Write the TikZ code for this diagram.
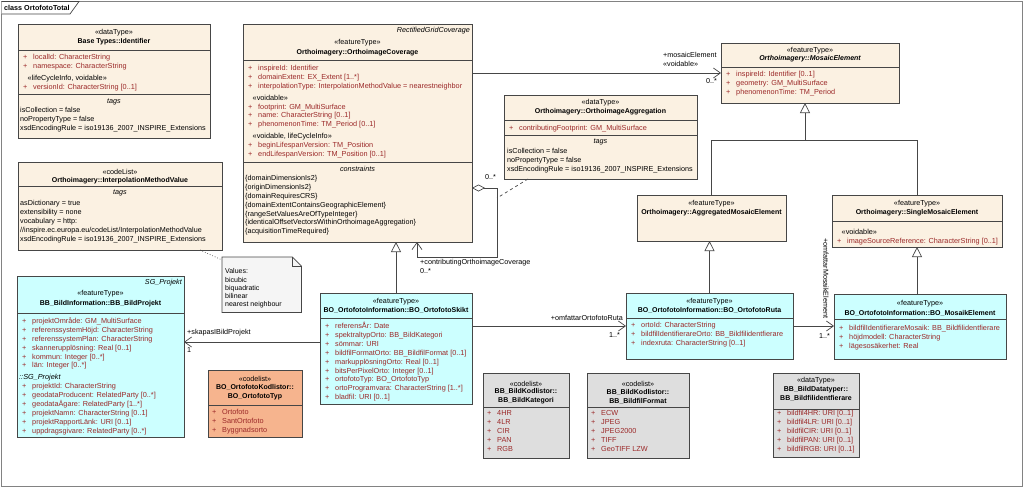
\documentclass[tikz,border=0pt]{standalone}
\usepackage{fontspec}
\setmainfont{Liberation Sans}
\usetikzlibrary{arrows.meta,positioning,calc}

\definecolor{eabeige}{RGB}{251,241,226}
\definecolor{eacyan}{RGB}{204,255,255}
\definecolor{eaorange}{RGB}{246,180,142}
\definecolor{eagray}{RGB}{222,222,222}
\definecolor{attrred}{RGB}{155,40,40}
\definecolor{boxline}{RGB}{70,70,70}
\definecolor{framegray}{RGB}{130,130,130}
\definecolor{notefill}{RGB}{245,245,245}

% 屬性列:前面的 + 號與名稱
\newcommand{\umlattr}[1]{\makebox[10pt][l]{+}#1}
% 屬性區內的 stereotype 列(黑色,稍微縮排)
\newcommand{\umlstereo}[1]{\hspace*{4.5pt}\textcolor{black}{#1}}

\begin{document}
\begin{tikzpicture}[
    x=1pt, y=-1pt,
    % 全域樣式設定
    classbox/.style={draw=boxline, line width=0.8pt, rectangle, anchor=north west, inner sep=0pt, outer sep=0pt}, % 類別方框
    sepline/.style={draw=boxline, line width=0.8pt}, % 方框內的分隔線
    stereo text/.style={font=\fontsize{7.2}{8.9}\selectfont, inner sep=0pt},
    name text/.style={font=\fontsize{7}{8.9}\selectfont\bfseries, inner sep=0pt, align=center},
    tag head/.style={font=\fontsize{7.2}{8.9}\selectfont\itshape, inner sep=0pt},
    attr text/.style={font=\fontsize{7.3}{8.9}\selectfont, text=attrred, align=left, anchor=north west, inner sep=0pt},
    tag text/.style={font=\fontsize{7.2}{8.9}\selectfont, align=left, anchor=north west, inner sep=0pt},
    label text/.style={font=\fontsize{7.2}{8.9}\selectfont, inner sep=0pt},
    % 關聯線:開放箭頭
    assoc/.style={draw=boxline, line width=0.7pt, -{Straight Barb[length=7pt, width=10pt]}},
    aggreg/.style={draw=boxline, line width=0.7pt, {Diamond[open, length=13pt, width=7pt]}-{Straight Barb[length=7pt, width=10pt]}},
    % 一般化:空心三角形
    generalization/.style={draw=boxline, line width=0.7pt, -{Triangle[open, length=10pt, width=10pt]}},
    tree line/.style={draw=boxline, line width=0.7pt},
    dashed link/.style={draw=boxline, line width=0.7pt, dashed},
    note link/.style={draw=boxline, line width=0.7pt, dotted},
    note border/.style={draw=boxline, line width=0.7pt}
]

    \useasboundingbox (0,0) rectangle (1024,488);

    % --- 0. 外框與標題 ---
    \draw[framegray, line width=1.2pt] (1.5,1.5) rectangle (1022.5,486.5);
    \draw[boxline, line width=0.7pt, fill=white] (1.5,1.5) -- (79,1.5) -- (70,14) -- (1.5,14);
    \node[font=\fontsize{7.2}{8.9}\selectfont\bfseries, inner sep=0pt, anchor=west] (frame_title) at (4,7.5) {class OrtofotoTotal};

    % --- 1. Base Types::Identifier ---
    \node[classbox, fill=eabeige, minimum width=192pt, minimum height=114pt] (ident) at (18,24) {};
    \draw[sepline] ($(ident.north west)+(0,26)$) -- ($(ident.north east)+(0,26)$);
    \draw[sepline] ($(ident.north west)+(0,70)$) -- ($(ident.north east)+(0,70)$);
    \node[stereo text] (ident_st) at ($(ident.north)+(0,9)$) {«dataType»};
    \node[name text] (ident_nm) at ($(ident.north)+(0,18)$) {Base Types::Identifier};
    \node[attr text] (ident_at) at ($(ident.north west)+(5,29)$) {\strut\umlattr{localId: CharacterString}\\
        \umlattr{namespace: CharacterString}\\[3pt]
        \umlstereo{«lifeCycleInfo, voidable»}\\
        \umlattr{versionId: CharacterString [0..1]}};
    \node[tag head] (ident_tgh) at ($(ident.north)+(0,78)$) {tags};
    \node[tag text] (ident_tg) at ($(ident.north west)+(2,82)$) {\strut isCollection = false\\
        noPropertyType = false\\
        xsdEncodingRule = iso19136\_2007\_INSPIRE\_Extensions};

    % --- 2. Orthoimagery::InterpolationMethodValue ---
    \node[classbox, fill=eabeige, minimum width=204pt, minimum height=88pt] (interp) at (18,162) {};
    \draw[sepline] ($(interp.north west)+(0,24)$) -- ($(interp.north east)+(0,24)$);
    \node[stereo text] (interp_st) at ($(interp.north)+(0,9.5)$) {«codeList»};
    \node[name text] (interp_nm) at ($(interp.north)+(0,18.5)$) {Orthoimagery::InterpolationMethodValue};
    \node[tag head] (interp_tgh) at ($(interp.north)+(0,31)$) {tags};
    \node[tag text] (interp_tg) at ($(interp.north west)+(2,37)$) {\strut asDictionary = true\\
        extensibility = none\\
        vocabulary = http:\\
        //inspire.ec.europa.eu/codeList/InterpolationMethodValue\\
        xsdEncodingRule = iso19136\_2007\_INSPIRE\_Extensions};

    % 註解方塊 (Values)
    \node[inner sep=0pt, minimum width=79pt, minimum height=55pt, anchor=north west] (note) at (222,257) {};
    \draw[note border, fill=notefill] (note.north west) -- ($(note.north east)+(-9,0)$) -- ($(note.north east)+(0,9)$) -- (note.south east) -- (note.south west) -- cycle;
    \draw[note border] ($(note.north east)+(-9,0)$) -- ($(note.north east)+(-9,9)$) -- ($(note.north east)+(0,9)$);
    \node[tag text, font=\fontsize{7}{8.2}\selectfont] (note_tx) at ($(note.north west)+(3,11)$) {\strut Values:\\
        bicubic\\
        biquadratic\\
        bilinear\\
        nearest neighbour};
    \coordinate (interp_foot) at ($(interp.south east)+(-22,0)$);
    \coordinate (note_hook) at ($(note.north west)+(0,3)$);
    \draw[note link] (interp_foot) -- (note_hook);

    % --- 3. Orthoimagery::OrthoimageCoverage ---
    \node[classbox, fill=eabeige, minimum width=229pt, minimum height=218pt] (coverage) at (243,24) {};
    \draw[sepline] ($(coverage.north west)+(0,36)$) -- ($(coverage.north east)+(0,36)$);
    \draw[sepline] ($(coverage.north west)+(0,138)$) -- ($(coverage.north east)+(0,138)$);
    \node[tag head, anchor=east] (coverage_sup) at ($(coverage.north east)+(-2,7)$) {RectifiedGridCoverage};
    \node[stereo text] (coverage_st) at ($(coverage.north)+(0,19)$) {«featureType»};
    \node[name text] (coverage_nm) at ($(coverage.north)+(0,29)$) {Orthoimagery::OrthoimageCoverage};
    \node[attr text] (coverage_at) at ($(coverage.north west)+(5,40)$) {\strut\umlattr{inspireId: Identifier}\\
        \umlattr{domainExtent: EX\_Extent [1..*]}\\
        \umlattr{interpolationType: InterpolationMethodValue = nearestneighbor}\\[3pt]
        \umlstereo{«voidable»}\\
        \umlattr{footprint: GM\_MultiSurface}\\
        \umlattr{name: CharacterString [0..1]}\\
        \umlattr{phenomenonTime: TM\_Period [0..1]}\\[3pt]
        \umlstereo{«voidable, lifeCycleInfo»}\\
        \umlattr{beginLifespanVersion: TM\_Position}\\
        \umlattr{endLifespanVersion: TM\_Position [0..1]}};
    \node[tag head] (coverage_csh) at ($(coverage.north)+(0,145)$) {constraints};
    \node[tag text] (coverage_cs) at ($(coverage.north west)+(2,150)$) {\strut\{domainDimensionIs2\}\\
        \{originDimensionIs2\}\\
        \{domainRequiresCRS\}\\
        \{domainExtentContainsGeographicElement\}\\
        \{rangeSetValuesAreOfTypeInteger\}\\
        \{identicalOffsetVectorsWithinOrthoimageAggregation\}\\
        \{acquisitionTimeRequired\}};

    % --- 4. Orthoimagery::OrthoimageAggregation ---
    \node[classbox, fill=eabeige, minimum width=193pt, minimum height=84pt] (aggregation) at (504,95) {};
    \draw[sepline] ($(aggregation.north west)+(0,25)$) -- ($(aggregation.north east)+(0,25)$);
    \draw[sepline] ($(aggregation.north west)+(0,40)$) -- ($(aggregation.north east)+(0,40)$);
    \node[stereo text] (aggregation_st) at ($(aggregation.north)+(0,8)$) {«dataType»};
    \node[name text] (aggregation_nm) at ($(aggregation.north)+(0,17)$) {Orthoimagery::OrthoimageAggregation};
    \node[attr text] (aggregation_at) at ($(aggregation.north west)+(5,29)$) {\strut\umlattr{contributingFootprint: GM\_MultiSurface}};
    \node[tag head] (aggregation_tgh) at ($(aggregation.north)+(0,47)$) {tags};
    \node[tag text] (aggregation_tg) at ($(aggregation.north west)+(3,52)$) {\strut isCollection = false\\
        noPropertyType = false\\
        xsdEncodingRule = iso19136\_2007\_INSPIRE\_Extensions};

    % --- 5. Orthoimagery::MosaicElement ---
    \node[classbox, fill=eabeige, minimum width=178pt, minimum height=60pt] (mosaic) at (721,43) {};
    \draw[sepline] ($(mosaic.north west)+(0,24)$) -- ($(mosaic.north east)+(0,24)$);
    \node[stereo text] (mosaic_st) at ($(mosaic.north)+(0,8)$) {«featureType»};
    \node[name text, font=\fontsize{7}{8.9}\selectfont\bfseries\itshape] (mosaic_nm) at ($(mosaic.north)+(0,16)$) {Orthoimagery::MosaicElement};
    \node[attr text] (mosaic_at) at ($(mosaic.north west)+(5,27)$) {\strut\umlattr{inspireId: Identifier [0..1]}\\
        \umlattr{geometry: GM\_MultiSurface}\\
        \umlattr{phenomenonTime: TM\_Period}};

    % --- 6. Orthoimagery::AggregatedMosaicElement / SingleMosaicElement ---
    \node[classbox, fill=eabeige, minimum width=149pt, minimum height=46pt] (aggregated) at (637,195) {};
    \node[stereo text] (aggregated_st) at ($(aggregated.north)+(0,9)$) {«featureType»};
    \node[name text] (aggregated_nm) at ($(aggregated.north)+(0,18)$) {Orthoimagery::AggregatedMosaicElement};

    \node[classbox, fill=eabeige, minimum width=170pt, minimum height=52pt] (single) at (832,195) {};
    \draw[sepline] ($(single.north west)+(0,26)$) -- ($(single.north east)+(0,26)$);
    \node[stereo text] (single_st) at ($(single.north)+(0,9)$) {«featureType»};
    \node[name text] (single_nm) at ($(single.north)+(0,18)$) {Orthoimagery::SingleMosaicElement};
    \node[attr text] (single_at) at ($(single.north west)+(5,33)$) {\strut\umlstereo{«voidable»}\\
        \umlattr{imageSourceReference: CharacterString [0..1]}};

    % --- 7. BB_BildInformation::BB_BildProjekt ---
    \node[classbox, fill=eacyan, minimum width=167pt, minimum height=161pt] (bildprojekt) at (17,276) {};
    \draw[sepline] ($(bildprojekt.north west)+(0,37)$) -- ($(bildprojekt.north east)+(0,37)$);
    \node[tag head, anchor=east] (bildprojekt_sup) at ($(bildprojekt.north east)+(-2,7)$) {SG\_Projekt};
    \node[stereo text] (bildprojekt_st) at ($(bildprojekt.north)+(0,18)$) {«featureType»};
    \node[name text] (bildprojekt_nm) at ($(bildprojekt.north)+(0,28)$) {BB\_BildInformation::BB\_BildProjekt};
    \node[attr text] (bildprojekt_at) at ($(bildprojekt.north west)+(5,41)$) {\strut\umlattr{projektOmråde: GM\_MultiSurface}\\
        \umlattr{referenssystemHöjd: CharacterString}\\
        \umlattr{referenssystemPlan: CharacterString}\\
        \umlattr{skannerupplösning: Real [0..1]}\\
        \umlattr{kommun: Integer [0..*]}\\
        \umlattr{län: Integer [0..*]}\\[3pt]
        \hspace*{-3pt}\textcolor{black}{\itshape ::SG\_Projekt}\\
        \umlattr{projektId: CharacterString}\\
        \umlattr{geodataProducent: RelatedParty [0..*]}\\
        \umlattr{geodataÄgare: RelatedParty [1..*]}\\
        \umlattr{projektNamn: CharacterString [0..1]}\\
        \umlattr{projektRapportLänk: URI [0..1]}\\
        \umlattr{uppdragsgivare: RelatedParty [0..*]}};

    % --- 8. BO_OrtofotoInformation::BO_OrtofotoSkikt ---
    \node[classbox, fill=eacyan, minimum width=152pt, minimum height=111pt] (skikt) at (320,293) {};
    \draw[sepline] ($(skikt.north west)+(0,25)$) -- ($(skikt.north east)+(0,25)$);
    \node[stereo text] (skikt_st) at ($(skikt.north)+(0,9)$) {«featureType»};
    \node[name text] (skikt_nm) at ($(skikt.north)+(0,17)$) {BO\_OrtofotoInformation::BO\_OrtofotoSkikt};
    \node[attr text] (skikt_at) at ($(skikt.north west)+(5,29)$) {\strut\umlattr{referensÅr: Date}\\
        \umlattr{spektraltypOrto: BB\_BildKategori}\\
        \umlattr{sömmar: URI}\\
        \umlattr{bildfilFormatOrto: BB\_BildfilFormat [0..1]}\\
        \umlattr{markupplösningOrto: Real [0..1]}\\
        \umlattr{bitsPerPixelOrto: Integer [0..1]}\\
        \umlattr{ortofotoTyp: BO\_OrtofotoTyp}\\
        \umlattr{ortoProgramvara: CharacterString [1..*]}\\
        \umlattr{bladfil: URI [0..1]}};

    % --- 9. BO_OrtofotoInformation::BO_OrtofotoRuta ---
    \node[classbox, fill=eacyan, minimum width=167pt, minimum height=66pt] (ruta) at (626,293) {};
    \draw[sepline] ($(ruta.north west)+(0,25)$) -- ($(ruta.north east)+(0,25)$);
    \node[stereo text] (ruta_st) at ($(ruta.north)+(0,9)$) {«featureType»};
    \node[name text] (ruta_nm) at ($(ruta.north)+(0,17)$) {BO\_OrtofotoInformation::BO\_OrtofotoRuta};
    \node[attr text] (ruta_at) at ($(ruta.north west)+(5,28)$) {\strut\umlattr{ortoId: CharacterString}\\
        \umlattr{bildfilIdentifierareOrto: BB\_Bildfilidentfierare}\\
        \umlattr{indexruta: CharacterString [0..1]}};

    % --- 10. BO_OrtofotoInformation::BO_MosaikElement ---
    \node[classbox, fill=eacyan, minimum width=172pt, minimum height=65pt] (mosaik) at (834,294) {};
    \draw[sepline] ($(mosaik.north west)+(0,25)$) -- ($(mosaik.north east)+(0,25)$);
    \node[stereo text] (mosaik_st) at ($(mosaik.north)+(0,10)$) {«featureType»};
    \node[name text] (mosaik_nm) at ($(mosaik.north)+(0,19)$) {BO\_OrtofotoInformation::BO\_MosaikElement};
    \node[attr text] (mosaik_at) at ($(mosaik.north west)+(5,30)$) {\strut\umlattr{bildfilIdentifierareMosaik: BB\_Bildfilidentfierare}\\
        \umlattr{höjdmodell: CharacterString}\\
        \umlattr{lägesosäkerhet: Real}};

    % --- 11. 代碼表與資料型別 (codelist / dataType) ---
    \node[classbox, fill=eaorange, minimum width=94pt, minimum height=67pt] (ortotyp) at (208,370) {};
    \draw[sepline] ($(ortotyp.north west)+(0,35)$) -- ($(ortotyp.north east)+(0,35)$);
    \node[stereo text] (ortotyp_st) at ($(ortotyp.north)+(0,9)$) {«codelist»};
    \node[name text] (ortotyp_nm) at ($(ortotyp.north)+(0,22.5)$) {BO\_OrtofotoKodlistor::\\BO\_OrtofotoTyp};
    \node[attr text] (ortotyp_at) at ($(ortotyp.north west)+(4,38)$) {\strut\umlattr{Ortofoto}\\
        \umlattr{SantOrtofoto}\\
        \umlattr{Byggnadsorto}};

    \node[classbox, fill=eagray, minimum width=86pt, minimum height=85pt] (bildkat) at (483,373) {};
    \draw[sepline] ($(bildkat.north west)+(0,34)$) -- ($(bildkat.north east)+(0,34)$);
    \node[stereo text] (bildkat_st) at ($(bildkat.north)+(0,11)$) {«codelist»};
    \node[name text] (bildkat_nm) at ($(bildkat.north)+(0,23.5)$) {BB\_BildKodlistor::\\BB\_BildKategori};
    \node[attr text] (bildkat_at) at ($(bildkat.north west)+(4,36)$) {\strut\umlattr{4HR}\\
        \umlattr{4LR}\\
        \umlattr{CIR}\\
        \umlattr{PAN}\\
        \umlattr{RGB}};

    \node[classbox, fill=eagray, minimum width=102pt, minimum height=85pt] (bildformat) at (587,373) {};
    \draw[sepline] ($(bildformat.north west)+(0,34)$) -- ($(bildformat.north east)+(0,34)$);
    \node[stereo text] (bildformat_st) at ($(bildformat.north)+(0,11)$) {«codelist»};
    \node[name text] (bildformat_nm) at ($(bildformat.north)+(0,23.5)$) {BB\_BildKodlistor::\\BB\_BildfilFormat};
    \node[attr text] (bildformat_at) at ($(bildformat.north west)+(4,36)$) {\strut\umlattr{ECW}\\
        \umlattr{JPEG}\\
        \umlattr{JPEG2000}\\
        \umlattr{TIFF}\\
        \umlattr{GeoTIFF LZW}};

    \node[classbox, fill=eagray, minimum width=86pt, minimum height=84pt] (bildid) at (773,373) {};
    \draw[sepline] ($(bildid.north west)+(0,36)$) -- ($(bildid.north east)+(0,36)$);
    \node[stereo text] (bildid_st) at ($(bildid.north)+(0,8)$) {«dataType»};
    \node[name text] (bildid_nm) at ($(bildid.north)+(0,21)$) {BB\_BildDatatyper::\\BB\_Bildfilidentfierare};
    \node[attr text] (bildid_at) at ($(bildid.north west)+(4,36)$) {\strut\umlattr{bildfil4HR: URI [0..1]}\\
        \umlattr{bildfil4LR: URI [0..1]}\\
        \umlattr{bildfilCIR: URI [0..1]}\\
        \umlattr{bildfilPAN: URI [0..1]}\\
        \umlattr{bildfilRGB: URI [0..1]}};

    % --- 12. 關聯與一般化 ---
    % OrthoimageCoverage -> MosaicElement
    \draw[assoc] (coverage.east |- mosaic.west) -- (mosaic.west);
    \node[label text, anchor=west] (mosaic_role) at ($(mosaic.west)+(-58,-18)$) {+mosaicElement};
    \node[label text, anchor=west] (mosaic_void) at ($(mosaic.west)+(-58,-9)$) {«voidable»};
    \node[label text, anchor=east] (mosaic_mult) at ($(mosaic.west)+(-4,8)$) {0..*};

    % 自身聚合 (contributingOrthoimageCoverage)
    \coordinate (contrib_start) at ($(coverage.north east)+(0,164)$);
    \coordinate (contrib_bend) at ($(contrib_start)+(25,0)$);
    \coordinate (contrib_low) at ($(coverage.south east)+(25,15)$);
    \coordinate (contrib_back) at ($(coverage.south west)+(174,15)$);
    \draw[aggreg] (contrib_start) -- (contrib_bend) -- (contrib_low) -- (contrib_back) -- (contrib_back |- coverage.south);
    \node[label text, anchor=west] (contrib_mult_a) at ($(contrib_start)+(13,-11)$) {0..*};
    \node[label text, anchor=west] (contrib_role) at ($(contrib_back)+(3,6)$) {+contributingOrthoimageCoverage};
    \node[label text, anchor=west] (contrib_mult_b) at ($(contrib_back)+(3,14)$) {0..*};
    % 關聯類別的虛線
    \coordinate (assoc_class_foot) at ($(contrib_bend)+(0,10)$);
    \draw[dashed link] ($(aggregation.south west)+(24,0)$) -- (assoc_class_foot);

    % 一般化
    \draw[generalization] (skikt.north) -- (skikt.north |- coverage.south);
    \coordinate (gen_hub) at ($(mosaic.south)+(-5,37)$);
    \draw[generalization] (aggregated.north) |- (gen_hub) -- (gen_hub |- mosaic.south);
    \draw[tree line] (single.north) |- (gen_hub);
    \draw[generalization] (ruta.north) -- (ruta.north |- aggregated.south);
    \draw[generalization] (single.south |- mosaik.north) -- (single.south);

    % BO_OrtofotoSkikt -> BB_BildProjekt
    \coordinate (skapas_start) at ($(skikt.north west)+(0,49)$);
    \coordinate (skapas_end) at (skapas_start -| bildprojekt.east);
    \draw[assoc] (skapas_start) -- (skapas_end);
    \node[label text, anchor=west] (skapas_role) at ($(skapas_end)+(3,-9)$) {+skapasIBildProjekt};
    \node[label text, anchor=west] (skapas_mult) at ($(skapas_end)+(3,8)$) {1};

    % BO_OrtofotoSkikt -> BO_OrtofotoRuta
    \draw[assoc] (skikt.east |- ruta.west) -- (ruta.west);
    \node[label text, anchor=east] (ruta_role) at ($(ruta.west)+(-3,-8)$) {+omfattarOrtofotoRuta};
    \node[label text, anchor=east] (ruta_mult) at ($(ruta.west)+(-6,9)$) {1..*};

    % BO_OrtofotoRuta -> BO_MosaikElement
    \draw[assoc] (ruta.east) -- (ruta.east -| mosaik.west);
    \node[label text, anchor=east, rotate=-90] (mosaik_role) at ($(mosaik.west)+(-8,-8)$) {+omfattarMosaikElement};
    \node[label text, anchor=east] (mosaik_mult) at ($(mosaik.west)+(-4,10)$) {1..*};

\end{tikzpicture}
\end{document}
